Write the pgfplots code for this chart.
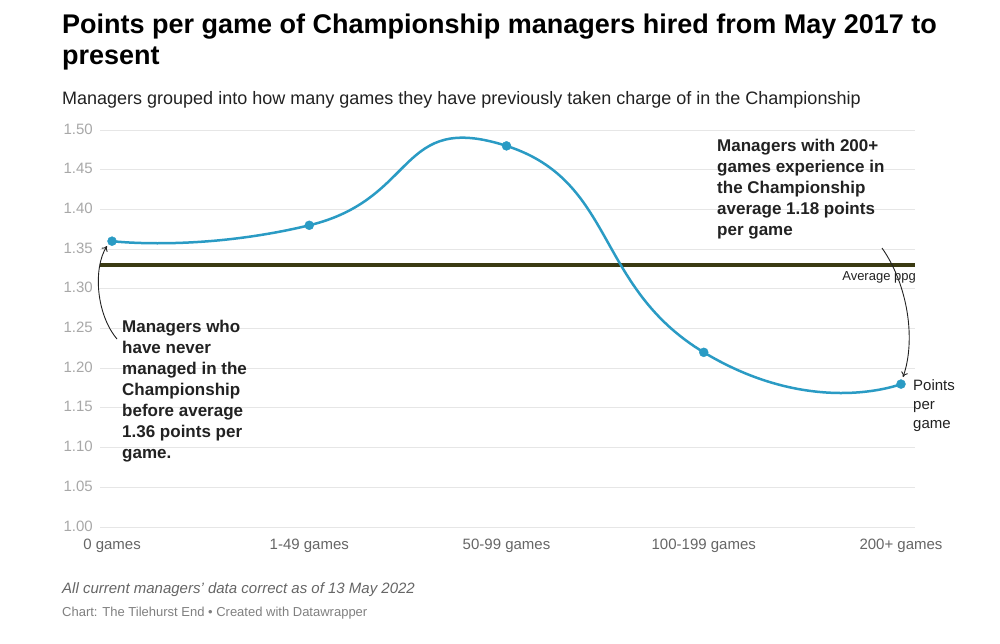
\documentclass[border=0pt]{standalone}
\usepackage{fontspec}
\setmainfont{Liberation Sans}
\usepackage{pgfplots}
\pgfplotsset{compat=1.18}
\usetikzlibrary{arrows.meta}
\definecolor{lineblue}{HTML}{2A9BC4}
\definecolor{avgline}{HTML}{3A3A12}
\definecolor{gridc}{HTML}{E6E6E6}
\definecolor{ytickc}{HTML}{A8A8A8}
\definecolor{xtickc}{HTML}{666666}
\definecolor{annot}{HTML}{222222}
\pgfplotstableread{
x y
0 1.36
1 1.38
2 1.48
3 1.22
4 1.18
}\ppg
\pgfplotstableread{
x y
-0.061 1.33
4.071 1.33
}\avg
\begin{document}
\begin{tikzpicture}
\path[use as bounding box, fill=white] (0pt,0pt) rectangle (1000pt,-643pt);
\node[anchor=base west, inner sep=0pt, font=\bfseries\fontsize{27}{32}\selectfont, text=black] at (62pt,-33pt) {Points per game of Championship managers hired from May 2017 to};
\node[anchor=base west, inner sep=0pt, font=\bfseries\fontsize{27}{32}\selectfont, text=black] at (62pt,-64pt) {present};
\node[anchor=base west, inner sep=0pt, font=\fontsize{18}{22}\selectfont, text=annot] at (62pt,-104pt) {Managers grouped into how many games they have previously taken charge of in the Championship};
\begin{axis}[
  at={(100pt,-527pt)}, anchor=south west,
  scale only axis, width=815pt, height=397pt,
  xmin=-0.061, xmax=4.071, ymin=1, ymax=1.5,
  axis line style={draw=none},
  major tick length=0pt,
  ymajorgrids, grid style={gridc, line width=1pt},
  ytick={1,1.05,1.1,1.15,1.2,1.25,1.3,1.35,1.4,1.45,1.5},
  yticklabel style={anchor=base east, inner sep=0pt, xshift=-7pt, yshift=-4pt, text=ytickc, font=\fontsize{15}{18}\selectfont,
     /pgf/number format/.cd, fixed, fixed zerofill, precision=2, assume math mode=true},
  xtick={0,1,2,3,4},
  xticklabels={0 games,1-49 games,50-99 games,100-199 games,200+ games},
  xticklabel style={anchor=base, inner sep=0pt, yshift=-22pt, text=xtickc, font=\fontsize{15}{18}\selectfont},
  clip=false,
]
\addplot[avgline, line width=4pt] table[x=x,y=y] {\avg};
\addplot[lineblue, line width=2.5pt, smooth, tension=1, mark=*, mark size=4.5pt, mark options={fill=lineblue, draw=lineblue, line width=0.4pt, solid}] table[x=x,y=y] {\ppg};
\end{axis}
% annotations
\node[anchor=north west, inner sep=0pt, align=left, font=\bfseries\fontsize{17}{21}\selectfont, text=annot] at (122pt,-320pt) {Managers who\\have never\\managed in the\\Championship\\before average\\1.36 points per\\game.};
\node[anchor=north west, inner sep=0pt, align=left, font=\bfseries\fontsize{17}{21}\selectfont, text=annot] at (717pt,-139pt) {Managers with 200+\\games experience in\\the Championship\\average 1.18 points\\per game};
\node[anchor=base east, inner sep=0pt, font=\fontsize{13}{16}\selectfont, text=annot] at (916pt,-280pt) {Average ppg};
\node[anchor=north west, inner sep=0pt, align=left, font=\fontsize{15}{19}\selectfont, text=annot] at (913pt,-379pt) {Points\\per\\game};
\draw[annot, line width=0.9pt, -{To[length=5pt,width=7pt]}] (117pt,-339pt) .. controls (96pt,-314pt) and (93pt,-268pt) .. (107pt,-246pt);
\draw[annot, line width=0.9pt, -{To[length=5pt,width=7pt]}] (882pt,-248pt) .. controls (908pt,-285pt) and (916pt,-340pt) .. (903pt,-377pt);
\node[anchor=base west, inner sep=0pt, font=\itshape\fontsize{15}{18}\selectfont, text=xtickc] at (62pt,-593pt) {All current managers' data correct as of 13 May 2022};
\node[anchor=base west, inner sep=0pt, font=\fontsize{13}{16}\selectfont, text=gray] at (62pt,-616pt) {Chart: The Tilehurst End \textbullet{} Created with Datawrapper};
\end{tikzpicture}
\end{document}
